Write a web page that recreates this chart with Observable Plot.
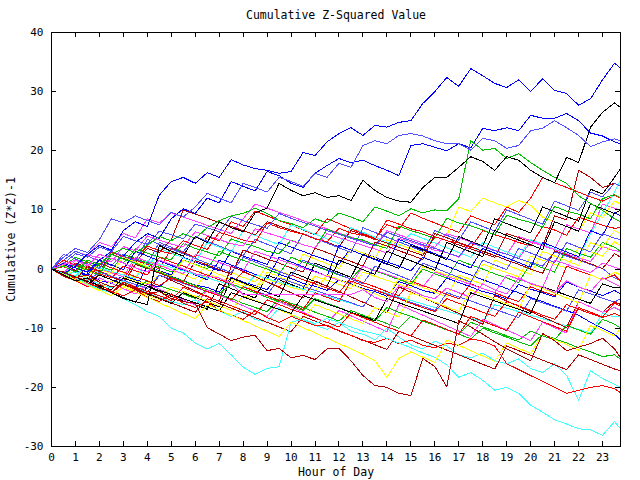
<!DOCTYPE html>
<html><head><meta charset="utf-8">
<script src="https://cdn.jsdelivr.net/npm/d3@7"></script>
<script src="https://cdn.jsdelivr.net/npm/@observablehq/plot@0.6"></script>
<style>body{margin:0;background:#fff}</style>
</head><body><div id="chart"></div>
<script>
const titleText = "Cumulative Z-Squared Value";
const xLabel = "Hour of Day";
const yLabel = "Cumulative (Z*Z)-1";
const hours = [0,0.5,1,1.5,2,2.5,3,3.5,4,4.5,5,5.5,6,6.5,7,7.5,8,8.5,9,9.5,10,10.5,11,11.5,12,12.5,13,13.5,14,14.5,15,15.5,16,16.5,17,17.5,18,18.5,19,19.5,20,20.5,21,21.5,22,22.5,23,23.5,23.75];
const xTicks = [0,1,2,3,4,5,6,7,8,9,10,11,12,13,14,15,16,17,18,19,20,21,22,23];
const yTicks = [-30,-20,-10,0,10,20,30,40];

const red="#ff0000", green="#00c000", blue="#0000ff", magenta="#ff40ff", cyan="#40ffff",
      yellow="#ffff00", black="#000000", darkred="#b00000", lightblue="#5050ff";

const s01 = [0,-0.8,0.5,2.5,4.0,3.2,6.5,8.0,7.2,12.5,14.8,15.5, 14.5,16.3,15.5,18.5,17.6,17.0,16.7,16.2,16.5,19.7,19.2,21.5, 22.9,23.9,22.6,24.3,24.0,24.8,25.1,28.0,30.0,32.4,30.9,33.9, 32.7,31.4,30.7,32.0,30.0,32.2,30.2,29.7,27.7,28.8,32.0,34.8, 34.0];
const s02 = [0,1.0,0.2,-0.5,1.5,3.0,2.2,4.5,6.0,5.2,8.5,10.2, 9.4,12.0,11.2,14.8,14.0,13.2,16.5,15.8,14.5,13.8,16.2,17.5, 18.7,18.0,18.4,17.5,16.7,15.8,20.9,21.2,20.6,20.0,21.2,20.5, 23.8,23.4,23.9,23.4,26.0,25.5,25.5,26.3,25.1,23.0,22.5,21.5, 21.2];
const s03 = [0,2.0,3.5,2.8,5.0,8.5,7.8,9.0,8.2,7.5,9.6,8.8, 10.5,12.8,12.0,11.2,14.5,13.8,13.0,15.5,14.8,14.0,16.2,15.5, 17.9,17.2,20.9,21.7,21.2,22.6,22.9,22.5,21.7,21.2,21.2,20.1, 22.1,21.7,20.4,20.9,23.4,23.8,25.1,23.9,22.6,20.7,21.5,22.0, 21.7];
const s04 = [0,-1.0,-2.0,-1.5,-3.0,-4.0,-5.0,-5.5,-6.0,4.0,3.0,2.2, 5.5,4.5,8.0,7.0,6.3,9.5,10.3,14.5,13.3,12.4,12.9,12.1, 12.4,11.6,15.0,13.3,12.1,11.5,11.3,13.8,15.5,15.5,17.2,19.0, 18.2,16.7,19.0,18.4,16.7,15.5,14.6,18.9,18.0,24.0,26.5,28.1, 27.3];
const s05 = [0,-0.8,-1.5,-2.5,-3.4,-4.0,-5.0,-6.0,-7.2,-8.0,-10.0,-10.8, -12.5,-13.5,-12.6,-14.5,-16.6,-17.8,-16.8,-16.5,-9.0,-8.5,-9.2,-8.4, -9.0,-9.8,-10.5,-10.9,-11.7,-12.5,-13.3,-14.2,-14.9,-16.2,-18.3,-17.5, -18.8,-20.5,-20.0,-21.0,-23.0,-24.2,-25.5,-26.2,-27.0,-27.2,-28.1,-25.8, -27.0];
const s06 = [0,-0.5,-1.5,-1.0,-2.2,-3.0,-2.5,-3.5,-4.2,-3.8,-5.0,-5.5, -5.8,-9.9,-11.0,-12.1,-11.5,-11.2,-13.8,-13.4,-15.0,-14.6,-15.3,-13.5, -13.4,-15.5,-18.0,-19.7,-20.0,-21.0,-21.4,-15.1,-16.5,-19.9,-8.7,-9.8, -11.0,-12.3,-13.5,-14.5,-15.5,-10.9,-12.1,-13.8,-13.2,-12.6,-11.7,-13.5, -15.0];
const s07 = [0,-1.0,-0.5,-1.8,-2.5,-3.2,-2.0,-3.0,-4.0,-4.8,-5.5,-6.0, -5.2,-6.5,-7.0,-8.0,-7.2,-8.5,-9.0,-6.5,-7.8,-8.5,-9.5,-10.2, -9.0,-10.5,-11.0,-12.0,-10.0,-11.5,-12.8,-13.5,-12.2,-13.0,-14.5,-15.0, -14.2,-15.5,-16.0,-15.2,-16.8,-17.5,-16.0,-18.0,-22.2,-17.2,-18.5,-19.5, -20.0];
const s08 = [0,-1.2,-2.0,-3.0,-2.5,-3.8,-4.5,-3.5,-4.8,-5.5,-4.2,-5.8, -6.5,-5.5,-7.0,-7.8,-8.5,-7.0,-8.2,-9.0,-8.0,-8.8,-9.5,-9.5, -10.5,-11.2,-12.1,-12.4,-11.7,-12.6,-12.0,-12.9,-13.3,-12.5,-12.9,-11.8, -12.2,-13.0,-16.0,-17.0,-18.0,-19.0,-20.0,-21.0,-20.5,-20.0,-19.7,-20.2, -20.9];
const s09 = [0,0.8,1.5,0.5,2.5,1.8,1.0,0.2,-0.5,1.5,0.8,0.0, -0.8,-1.2,-1.5,-2.5,-4.3,-4.3,-4.3,-4.3,-4.3,-4.3,-4.3,-4.3, -4.3,-4.3,-3.5,-4.8,-5.5,-2.8,-3.5,-4.5,-5.0,-3.2,-4.0,-4.8, -2.5,-3.5,-4.2,-1.5,-2.5,-3.0,-4.0,-2.0,-3.0,-3.8,-1.5,-2.5, -3.0];
const s10 = [0,0.5,-0.5,1.5,0.8,2.5,3.5,2.8,4.0,5.5,4.8,6.0, 5.2,7.0,8.2,9.0,9.4,10.3,9.4,8.2,7.7,7.0,8.5,7.8, 9.5,8.8,8.0,10.5,9.8,9.0,10.2,9.5,10.0,9.9,11.9,21.7, 20.1,20.4,18.7,19.5,18.0,16.7,15.5,14.5,12.4,11.1,9.9,8.5, 8.0];
const s11 = [0,-0.8,-1.5,0.5,-0.3,-1.2,-2.0,1.5,0.8,0.0,3.5,2.8, 2.0,5.5,4.8,8.0,7.2,9.8,9.0,8.2,7.5,6.6,5.8,8.5, 7.7,6.8,6.0,5.2,7.5,6.8,9.5,8.6,7.8,7.0,6.2,9.0, 8.2,7.5,10.5,9.6,12.0,15.5,14.6,13.8,13.0,12.2,11.5,12.5, 12.0];
const s12 = [0,1.5,0.7,0.0,-0.8,-1.5,0.5,-0.3,-1.0,2.0,1.2,0.5, -0.3,-1.0,-1.8,-2.5,-0.5,-1.3,-2.2,-3.0,-1.0,-1.8,-2.5,-3.2, -4.0,-1.5,-2.3,-3.0,-3.8,-4.5,-2.0,-2.8,-3.5,-4.3,-5.0,-2.5, -3.3,-4.0,-4.8,-5.5,-3.0,-3.8,-4.5,0.5,-0.3,-1.0,-1.8,-1.0, -2.0];
const s13 = [0,-0.5,-1.3,-2.0,1.0,0.2,-0.5,-1.3,-2.0,-2.8,-1.5,-2.3, -3.0,-3.8,-4.5,-5.2,-3.0,-3.8,-4.5,-5.3,-6.0,-6.8,-4.0,-4.8, -5.5,-2.0,-2.8,-3.5,-4.3,-5.0,-5.8,-6.5,-7.2,-5.0,-5.8,-6.5, -7.3,-8.0,-5.5,-6.2,-7.0,-7.8,-8.5,-6.0,-6.8,-7.5,-8.2,-7.5, -8.0];
const s14 = [0,-0.7,-1.5,-2.2,-1.0,-1.8,-2.5,-3.2,-2.0,-2.8,-3.5,-4.2, -5.0,-3.5,-4.3,-5.0,-5.8,-6.5,-7.2,-5.0,-5.8,-6.5,-7.3,-8.0, -8.8,-7.0,-7.8,-8.5,-9.2,-10.0,-8.0,-8.8,-9.5,-10.3,-11.0,-11.8, -10.0,-10.8,-11.5,-12.3,-13.0,-11.0,-11.8,-12.5,-13.3,-14.0,-14.8,-14.5, -15.2];
const s15 = [0,0.5,2.0,1.2,0.5,-0.2,2.5,1.8,1.0,0.3,-0.5,1.5, 0.8,0.0,3.0,2.2,1.5,0.7,0.0,-0.8,2.0,1.2,0.5,-0.2, -1.0,-1.7,0.5,-0.3,-1.0,-1.8,-2.5,0.0,-0.8,-1.5,1.5,0.7, 0.0,-0.8,-1.5,-2.3,1.0,0.2,-0.5,3.5,2.7,2.0,4.5,3.7, 3.0];
const s16 = [0,-1.0,0.5,-0.2,-1.0,2.5,1.7,1.0,0.2,-0.5,-1.3,-2.0, -2.8,-3.5,-4.2,-2.5,-3.3,-4.0,-4.8,-5.5,-6.2,-7.0,-5.0,-5.8, -6.5,-7.3,-8.0,-8.8,-6.5,-7.3,-8.0,-8.8,-9.5,-10.3,-11.0,-9.0, -9.8,-10.5,-11.3,-12.0,-10.5,-11.3,-12.0,-9.5,-10.3,-11.0,-8.5,-9.3, -10.0];
const s17 = [0,-1.2,-2.0,-2.8,-1.0,-1.8,-2.5,-3.3,0.5,-0.3,-1.0,2.0, 1.2,0.5,-0.3,3.0,2.2,1.5,0.8,4.5,3.7,3.0,2.2,1.5, 0.8,3.5,2.7,2.0,1.2,0.5,-0.3,2.0,1.2,0.5,-0.3,-1.0, -1.8,-2.5,-3.3,-4.0,-4.8,-5.5,-6.3,-7.0,-7.8,-9.0,-10.0,-11.0, -12.0];
const s18 = [0,0.8,-0.2,-1.0,1.5,0.7,-0.1,3.0,2.2,1.4,0.6,-0.2, -1.0,-1.8,1.5,0.7,-0.1,-0.9,-1.7,2.0,1.2,0.4,-0.4,-1.2, 4.0,3.2,2.4,1.6,0.8,5.0,4.2,3.4,2.6,1.8,1.0,0.2, 3.5,2.7,1.9,1.1,0.3,4.5,3.7,2.9,2.1,6.5,5.7,9.5, 9.0];
const s19 = [0,1.5,3.0,2.2,1.4,0.6,2.5,1.7,0.9,4.5,3.7,2.9, 5.5,4.7,3.9,3.1,2.3,5.0,4.2,3.4,2.6,6.0,5.2,4.4, 3.6,2.8,7.0,6.2,5.4,4.6,3.8,3.0,6.5,5.7,4.9,8.0, 7.2,6.4,10.0,9.2,8.4,7.6,11.5,10.7,9.9,13.0,12.2,14.5, 14.0];
const s20 = [0,-0.6,-1.3,-2.0,-0.5,-1.2,-1.9,-2.6,-3.3,-1.0,-1.7,-2.4, -3.1,-3.8,-4.5,-5.2,-3.0,-3.7,-4.4,-1.5,-2.2,-2.9,-3.6,-4.3, -5.0,-5.7,-6.4,-3.5,-4.2,-4.9,-5.6,-6.3,-7.0,-4.0,-4.7,-5.4, -6.1,-6.8,-7.5,-8.2,-5.0,-5.7,-6.4,-7.1,-3.5,-4.2,-4.9,-5.6, -5.0];
const s21 = [0,2.5,1.7,0.9,0.1,3.0,2.2,1.4,5.0,4.2,3.4,2.6, 1.8,1.0,0.2,-0.6,2.0,1.2,0.4,-0.4,-1.2,1.5,0.7,-0.1, -0.9,-1.7,-2.5,0.5,-0.3,-1.1,-1.9,1.0,0.2,-0.6,-1.4,-2.2, 1.5,0.7,-0.1,3.5,2.7,1.9,1.1,4.5,3.7,2.9,6.0,5.2, 5.0];
const s22 = [0,-0.8,-1.6,-2.4,-3.2,-4.0,-4.8,-5.6,-3.0,-3.8,-4.6,-5.4, -6.0,-6.8,-2.5,-3.3,-4.1,-4.9,-1.0,-1.8,-2.6,-3.4,1.0,0.2, -0.6,-1.4,2.5,1.7,0.9,0.1,4.0,3.2,2.4,1.6,5.5,4.7, 3.9,8.5,7.7,6.9,6.1,10.5,9.7,8.9,8.1,13.5,12.7,15.5, 17.0];
const s23 = [0,-1.0,-1.8,-2.6,-1.0,-1.8,-2.6,-3.4,-4.2,-5.0,-5.8,-4.0, -4.8,-5.6,-6.4,-1.5,-2.3,-3.1,-3.9,-4.7,-0.5,-1.3,-2.1,-2.9, 1.5,0.7,-0.1,-0.9,3.0,2.2,1.4,0.6,-0.2,4.5,3.7,2.9, 2.1,6.5,5.7,4.9,4.1,3.3,8.0,7.2,6.4,11.0,10.2,9.4, 10.0];
const s24 = [0,-0.7,-1.4,-2.1,-2.8,-3.5,-1.5,-2.2,-2.9,-3.6,-4.3,-5.0, -5.7,-6.4,-7.1,-4.0,-4.7,-5.4,-6.1,-6.8,-7.5,-4.5,-5.2,-5.9, -6.6,-7.3,-8.0,-8.7,-5.0,-5.7,-6.4,-7.1,-7.8,-8.5,-9.2,-4.0, -4.7,-5.4,-6.1,-6.8,-7.5,-3.0,-3.7,-4.4,-5.1,-5.8,-2.5,-3.2, -3.0];
const s25 = [0,-0.8,1.0,0.2,-0.6,2.5,1.7,0.9,0.1,3.5,2.7,1.9, 1.1,4.5,3.7,2.9,6.5,5.7,4.9,4.1,7.5,6.7,5.9,5.1, 4.3,7.0,6.2,5.4,4.6,3.8,6.0,5.2,4.4,3.6,2.8,2.0, 4.5,3.7,2.9,2.1,5.0,4.2,3.4,2.6,1.8,6.0,9.5,13.0, 15.0];
const s26 = [0,-0.6,-1.2,0.8,0.2,-0.4,-1.0,-1.6,1.5,0.9,0.3,-0.3, -0.9,-1.5,-2.1,-2.7,-3.3,-1.0,-1.6,-2.2,-2.8,-3.4,-4.0,-4.6, -5.2,-5.8,-6.4,-3.5,-4.1,-4.7,-5.3,-5.9,-6.5,-7.1,-7.7,-8.3, -8.9,-6.0,-6.6,-7.2,-7.8,-8.4,-9.0,-9.6,-10.2,-10.8,-7.5,-8.1, -8.0];
const s27 = [0,-0.5,1.0,0.3,-0.4,2.5,1.8,1.1,3.5,2.8,5.0,10.0, 9.3,8.6,7.9,7.2,6.5,5.8,8.0,7.3,6.6,5.9,5.2,4.5, 3.8,6.5,5.8,5.1,4.4,3.7,3.0,2.3,5.5,4.8,4.1,3.4, 2.7,2.0,6.0,5.3,4.6,3.9,9.0,8.3,16.7,15.5,13.8,14.5, 14.0];
const s28 = [0,-0.9,-1.8,0.5,-0.4,-1.3,-2.2,-3.1,-4.0,-1.0,-1.9,-2.8, -3.7,-4.6,-5.5,0.5,-0.4,-1.3,-2.2,-3.1,-4.0,-4.9,-2.0,-2.9, -3.8,-4.7,-5.6,-6.5,-7.4,-3.0,-3.9,-4.8,-5.7,-6.6,-7.5,-8.4, -9.3,-4.5,-5.4,-6.3,-7.2,-8.1,-9.0,-9.9,-5.5,-6.4,-7.3,-5.5, -6.0];
const s29 = [0,-0.8,-1.6,-2.4,-3.2,-4.0,-2.5,-3.3,-4.1,-4.9,-5.7,-6.5, -7.3,-5.0,-5.8,-6.6,-7.4,-8.2,-9.0,-9.8,-10.6,-8.0,-8.8,-9.6, -10.4,-11.2,-12.0,-12.8,-13.6,-10.5,-11.3,-12.1,-12.9,-13.7,-14.5,-15.3, -16.1,-16.9,-13.0,-13.8,-14.6,-15.4,-16.2,-17.0,-14.5,-15.3,-16.1,-16.9, -17.2];
const s30 = [0,1.5,3.0,2.3,4.5,3.8,6.0,5.3,8.5,7.8,9.5,8.8, 8.1,7.4,6.7,6.0,8.5,11.0,10.3,9.6,8.9,8.2,7.5,6.8, 6.1,5.4,4.7,4.0,6.5,5.8,5.1,4.4,3.7,6.0,5.3,4.6, 3.9,3.2,2.5,5.5,4.8,4.1,3.4,7.5,6.8,6.1,11.0,10.3, 10.0];
const s31 = [0,-0.7,1.5,0.8,0.1,-0.6,-1.3,2.0,1.3,0.6,-0.1,-0.8, 2.5,1.8,1.1,0.4,-0.3,3.0,2.3,1.6,0.9,0.2,-0.5,-1.2, -1.9,-2.6,0.5,-0.2,-0.9,-1.6,-2.3,-3.0,-0.5,-1.2,-1.9,-2.6, -3.3,-4.0,-1.0,-1.7,-2.4,-3.1,1.5,0.8,0.1,-0.6,1.0,0.3, 0.0];
const s32 = [0,-1.0,-2.0,-2.9,-1.5,-2.4,-3.3,-4.2,-2.5,-3.4,-4.3,-5.2, -6.1,-3.5,-4.4,-5.3,-6.2,-7.1,-8.0,-5.5,-6.4,-7.3,-8.2,-9.1, -7.0,-7.9,-8.8,-9.7,-10.6,-6.0,-6.9,-7.8,-8.7,-9.6,-10.5,-11.4, -8.5,-9.4,-10.3,-11.2,-12.1,-9.0,-9.9,-10.8,-5.5,-6.4,-7.3,-6.5, -7.0];
const s33 = [0,0.6,-0.2,-1.0,1.0,0.2,-0.6,-1.4,1.5,0.7,-0.1,-0.9, -1.7,1.0,0.2,-0.6,-1.4,-2.2,0.5,-0.3,-1.1,2.5,1.7,0.9, 0.1,3.5,2.7,1.9,5.0,4.2,3.4,2.6,6.5,5.7,10.5,9.7, 12.0,11.2,10.5,11.6,10.8,8.8,8.0,7.2,6.4,9.5,8.7,11.5, 11.0];
const s34 = [0,-0.8,-1.6,0.8,0.0,-0.8,2.0,1.2,0.4,-0.4,-1.2,1.5, 0.7,-0.1,-0.9,-1.7,-2.5,-3.3,-0.5,-1.3,-2.1,-2.9,-3.7,-1.0, -1.8,-2.6,-3.4,-4.2,-5.0,-1.5,-2.3,-3.1,-3.9,-4.7,-1.0,-1.8, -2.6,1.5,0.7,-0.1,-0.9,3.0,2.2,1.4,0.6,4.5,3.7,6.5, 6.0];
const s35 = [0,-1.0,-1.8,-2.6,-3.4,-2.0,-2.8,-3.6,-4.4,-5.2,-3.0,-3.8, -4.6,-5.4,-6.2,-7.0,-4.5,-5.3,-6.1,-6.9,-7.7,-8.5,-6.0,-6.8, -7.6,-8.4,-9.2,-6.5,-7.3,-8.1,-4.0,-4.8,-5.6,-6.4,-7.2,-3.5, -4.3,-5.1,-5.9,-6.7,-2.5,-3.3,-4.1,-4.9,-5.7,-1.0,-1.8,-0.5, -1.0];
const s36 = [0,-0.9,-1.8,-2.7,-3.6,-4.5,-3.0,-3.9,-4.8,-5.7,-6.6,-7.5, -8.4,-6.0,-6.9,-7.8,-8.7,-9.6,-10.5,-11.4,-9.0,-9.9,-10.8,-11.7, -12.6,-13.5,-14.4,-15.5,-18.3,-15.1,-14.0,-14.9,-15.8,-12.0,-12.9,-13.8, -14.7,-15.6,-12.5,-13.4,-14.3,-11.0,-11.9,-12.8,-13.7,-9.5,-10.4,-11.3, -10.0];
const s37 = [0,0.4,-0.3,1.2,0.6,2.8,2.1,1.7,3.9,3.1,2.6,4.8, 4.0,3.3,6.2,5.6,4.9,4.5,7.8,7.0,6.4,5.9,5.1,4.6, 6.9,6.1,5.7,5.0,8.3,7.6,6.8,6.3,5.5,4.8,4.4,3.6, 6.5,5.8,5.2,4.5,3.9,7.2,6.6,5.7,8.8,8.1,7.4,6.9, 7.0];
const s38 = [0,-0.6,0.9,0.2,-0.4,1.8,1.1,3.4,2.7,2.0,1.6,4.3, 3.5,2.9,2.2,5.1,4.4,3.8,3.0,2.6,4.9,4.1,3.6,6.7, 6.0,5.3,4.9,4.1,3.5,7.3,6.5,5.9,5.2,8.6,7.8,7.3, 6.6,5.8,9.1,8.4,7.9,7.1,10.6,9.8,9.3,8.5,11.9,12.6, 12.0];
const s39 = [0,-0.7,-1.3,-0.8,-1.9,-2.4,-1.1,-1.8,-2.6,-3.0,-1.2,-2.0, -2.7,-3.1,-3.9,-1.4,-2.2,-2.8,-3.5,-0.9,-1.6,-2.4,-2.9,-3.6, -1.8,-2.5,-3.3,-3.8,-4.6,-2.1,-2.8,-3.6,-4.1,-1.5,-2.3,-3.0, -3.8,-4.3,-5.1,-2.6,-3.4,-4.0,-4.7,-2.2,-3.0,-3.7,-4.5,-3.6, -4.2];
const s40 = [0,1.1,0.6,2.4,1.9,1.2,3.8,3.1,5.6,4.9,4.2,3.8, 6.3,5.7,5.0,4.3,3.9,6.8,6.1,5.5,4.8,4.1,3.6,6.0, 5.3,4.7,4.0,3.4,2.7,5.2,4.6,3.9,3.2,2.8,2.0,4.4, 3.8,3.1,2.5,1.8,4.6,3.9,3.3,2.6,1.9,1.3,3.8,3.1, 3.0];
const s41 = [0,-0.9,-0.4,-1.5,-2.1,-0.6,-1.3,-2.0,-2.5,-1.0,-1.7,-2.3, -3.0,-0.8,-1.5,-2.2,-2.9,-3.4,-1.7,-2.4,-3.1,-3.6,-1.2,-1.9, -2.6,-3.3,-0.5,-1.2,-1.9,-2.6,-3.2,0.4,-0.3,-1.0,-1.6,-2.3, 0.8,0.1,-0.6,-1.3,2.2,1.5,0.8,0.2,3.6,2.9,2.2,4.6, 4.0];
const s42 = [0,0.9,2.6,2.0,3.7,3.0,5.5,4.8,4.2,6.4,5.8,5.1, 7.6,7.0,6.3,8.9,8.2,7.5,6.9,9.4,8.6,7.9,7.3,6.5, 5.9,5.2,4.6,3.9,6.2,5.5,4.8,4.1,3.5,2.8,2.1,4.5, 3.8,3.1,2.5,1.8,1.1,0.5,2.9,2.2,1.5,0.8,0.1,-1.5, -2.0];
const s43 = [0,-0.8,-1.7,-2.3,-3.0,-3.9,-2.2,-3.0,-3.8,-4.5,-5.3,-3.1, -3.9,-4.7,-5.4,-6.2,-7.0,-7.7,-5.2,-6.0,-6.8,-7.5,-8.3,-9.0, -9.8,-7.4,-8.2,-9.0,-9.8,-10.5,-11.3,-8.6,-9.4,-10.2,-11.0,-8.0, -8.8,-9.6,-10.4,-7.3,-8.1,-8.9,-9.7,-10.5,-6.5,-7.3,-8.1,-5.7, -6.3];
const s44 = [0,-0.6,-1.4,-2.1,-1.0,-1.8,-2.5,0.8,0.1,-0.7,-1.4,-2.2, 1.4,0.7,-0.1,-0.9,3.2,2.5,1.7,1.0,0.2,-0.5,3.5,2.8, 2.0,1.3,0.5,4.6,3.9,3.1,2.4,1.6,6.0,5.3,4.5,3.8, 3.0,2.3,1.5,0.8,0.0,-0.7,3.1,2.4,1.6,0.9,0.1,2.6, 2.0];

const seriesList = [
  [s11, red], [s14, green], [s17, blue], [s30, magenta], [s25, cyan], [s33, yellow], [s22, black], [s27, darkred], [s19, lightblue],
  [s37, red], [s38, green], [s39, blue], [s40, magenta], [s41, yellow], [s42, lightblue], [s44, darkred],
  [s12, red], [s15, green], [s18, blue], [s31, magenta], [s26, cyan], [s34, yellow], [s23, black], [s28, darkred], [s20, lightblue],
  [s13, red], [s16, green], [s02, blue], [s32, magenta], [s07, cyan], [s35, yellow], [s24, black], [s29, darkred], [s21, lightblue],
  [s43, red],
  [s08, red], [s10, green], [s01, blue], [s09, magenta], [s05, cyan], [s36, yellow], [s04, black], [s06, darkred], [s03, lightblue]
];

const font = "'DejaVu Sans Mono', monospace";
const chart = Plot.plot({
  width: 640, height: 480,
  marginTop: 32, marginLeft: 51, marginRight: 20, marginBottom: 34,
  style: {fontFamily: font, fontSize: "11px", background: "#ffffff", color: "#000000"},
  x: {domain: [0, 23.75], label: null},
  y: {domain: [-30, 40], label: null},
  marks: [
    ...seriesList.map(([vals, col]) => Plot.line(vals, {x: (d, i) => hours[i], y: d => d, stroke: col, strokeWidth: 1, shapeRendering: "crispEdges"})),
    Plot.frame({stroke: "#000000", strokeWidth: 1, shapeRendering: "crispEdges"}),
    Plot.ruleX(xTicks, {x: d => d, y1: -30, y2: -29.15, stroke: "#000", shapeRendering: "crispEdges"}),
    Plot.ruleX(xTicks, {x: d => d, y1: 39.15, y2: 40, stroke: "#000", shapeRendering: "crispEdges"}),
    Plot.ruleY(yTicks, {y: d => d, x1: 0, x2: 0.21, stroke: "#000", shapeRendering: "crispEdges"}),
    Plot.ruleY(yTicks, {y: d => d, x1: 23.54, x2: 23.75, stroke: "#000", shapeRendering: "crispEdges"}),
    Plot.axisX({ticks: xTicks, tickSize: 0, tickPadding: 7, tickFormat: d => String(d), fontSize: 11}),
    Plot.axisY({ticks: yTicks, tickSize: 0, tickPadding: 8, tickFormat: d => String(d), fontSize: 11}),
    Plot.text([titleText], {frameAnchor: "top", dy: -17, lineAnchor: "middle", textAnchor: "middle", fontSize: 11.5, fill: "#000"}),
    Plot.text([xLabel], {frameAnchor: "bottom", dy: 26, lineAnchor: "middle", textAnchor: "middle", fontSize: 11.5, fill: "#000"}),
    Plot.text([yLabel], {frameAnchor: "left", dx: -40, rotate: -90, lineAnchor: "middle", textAnchor: "middle", fontSize: 11.5, fill: "#000"})
  ]
});
document.getElementById("chart").appendChild(chart);
</script>
</body></html>
